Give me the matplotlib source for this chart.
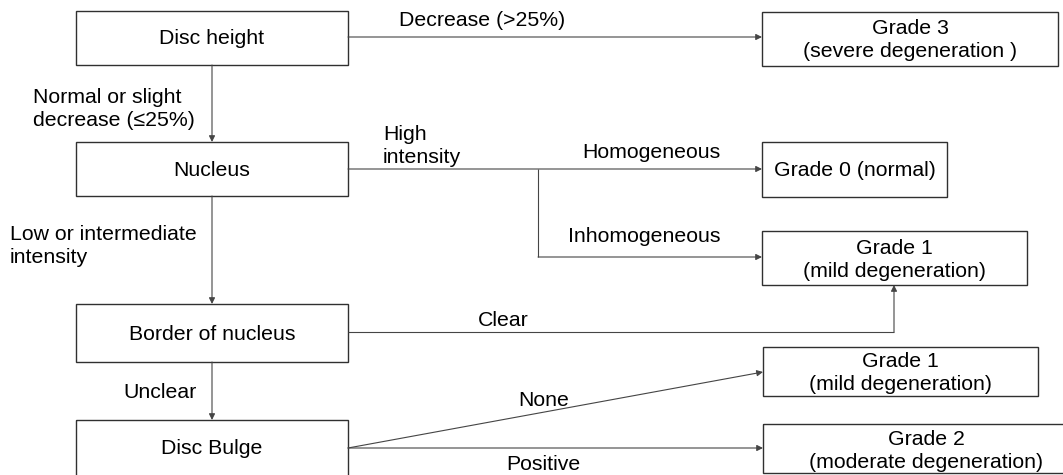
import matplotlib
matplotlib.use('Agg')
import matplotlib.pyplot as plt
from matplotlib.patches import Rectangle

plt.rcParams['font.family'] = ['Liberation Sans', 'DejaVu Sans']

# node texts
node_labels = ['Disc height', 'Nucleus', 'Border of nucleus', 'Disc Bulge',
               'Grade 3\n(severe degeneration )', 'Grade 0 (normal)',
               'Grade 1\n(mild degeneration)', 'Grade 1\n(mild degeneration)',
               'Grade 2\n(moderate degeneration)']

# decision texts on the arrows
edge_labels = ['Decrease (>25%)', 'Normal or slight\ndecrease (\u226425%)',
               'High\nintensity', 'Homogeneous', 'Inhomogeneous',
               'Low or intermediate\nintensity', 'Clear', 'Unclear',
               'None', 'Positive']

# layout in pixel units (x0, y0, x1, y1), y grows downward
boxes = [(76, 11, 348, 65), (76, 142, 348, 196), (76, 304, 348, 362),
         (76, 420, 348, 500), (762, 12, 1058, 66), (762, 142, 947, 197),
         (762, 231, 1027, 285), (763, 347, 1038, 396), (763, 424, 1090, 473)]
text_y = [38, 170, 334, 449, 40, 171, 260, 373, 451]

# label anchor (x, y, ha)
label_pos = [(399, 21, 'left'), (33, 109, 'left'), (383, 146, 'left'),
             (651, 153, 'center'), (644, 237, 'center'), (10, 246, 'left'),
             (503, 320, 'center'), (160, 392, 'center'), (544, 400, 'center'),
             (543, 465, 'center')]

fs = 15.3
edge_col = '#303030'
line_col = '#454545'

fig = plt.figure(figsize=(10.63, 4.75), dpi=100)
ax = fig.add_axes([0, 0, 1, 1])
ax.set_xlim(0, 1063)
ax.set_ylim(475, 0)
ax.axis('off')

for (x0, y0, x1, y1), txt, ty in zip(boxes, node_labels, text_y):
    ax.add_patch(Rectangle((x0, y0), x1 - x0, y1 - y0, fill=False,
                           edgecolor=edge_col, lw=1.0))
    ax.text((x0 + x1) / 2, ty, txt, ha='center', va='center', fontsize=fs,
            linespacing=1.22)

for (x, y, ha), txt in zip(label_pos, edge_labels):
    ax.text(x, y, txt, ha=ha, va='center', fontsize=fs, linespacing=1.25)


def seg(p, q):
    ax.plot([p[0], q[0]], [p[1], q[1]], color=line_col, lw=0.8,
            solid_capstyle='butt')


def arrow(p, q):
    ax.annotate('', xy=q, xytext=p,
                arrowprops=dict(arrowstyle='-|>', color=line_col, lw=0.8,
                                mutation_scale=9, shrinkA=0, shrinkB=0))


arrow((348, 37), (762, 37))
arrow((212, 65), (212, 142))
arrow((348, 169), (762, 169))
seg((538, 169), (538, 257))
arrow((538, 257), (762, 257))
arrow((212, 196), (212, 304))
seg((348, 332), (894, 332))
arrow((894, 332), (894, 285))
arrow((212, 362), (212, 420))
arrow((348, 448), (763, 372))
arrow((348, 448), (763, 448))

fig.savefig('out.png', dpi=100)
